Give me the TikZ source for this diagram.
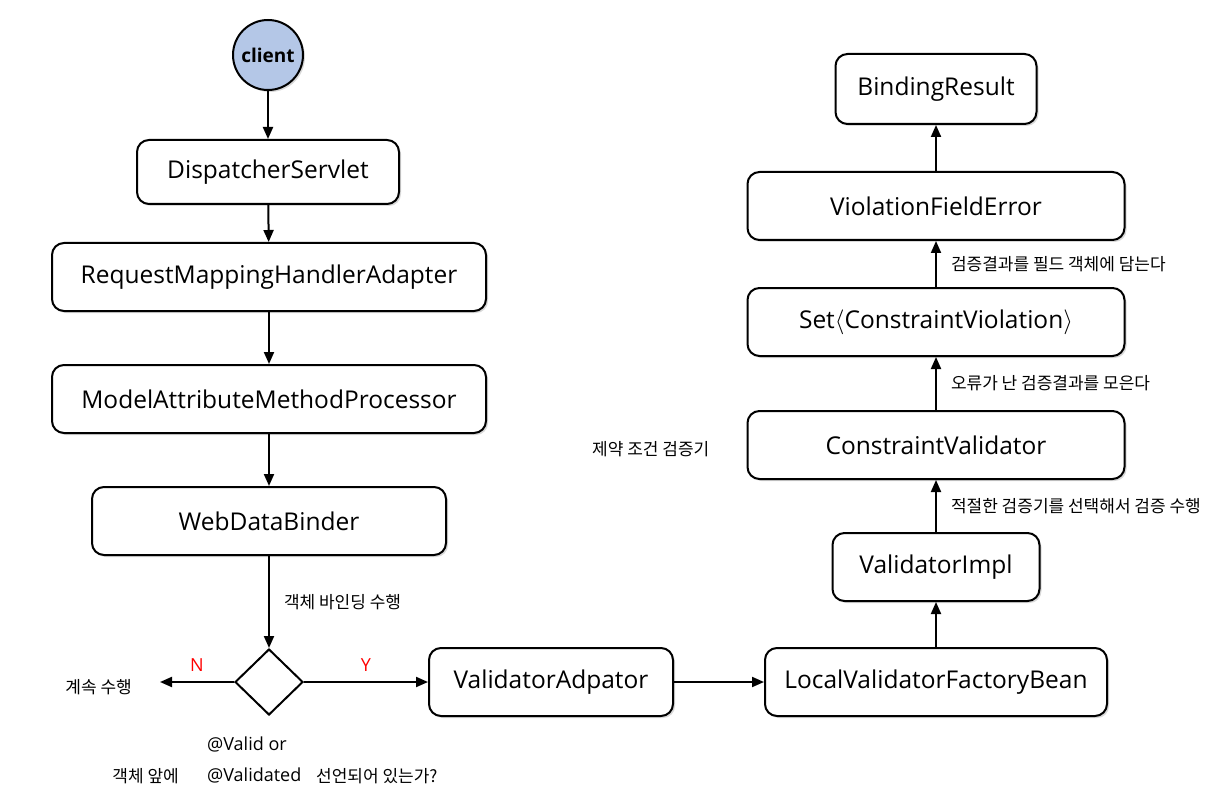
\documentclass[tikz,border=0pt]{standalone}
\usepackage{fontspec}
\setmainfont{Open Sans}
\newfontfamily\kr{Noto Sans CJK KR}
\usetikzlibrary{arrows.meta, positioning, shapes.geometric, shadows}

\definecolor{clientblue}{HTML}{B4C7E7}

\begin{document}
\begin{tikzpicture}[x=1pt, y=-1pt,
    box/.style={draw, line width=2pt, rounded corners=12pt, fill=white, minimum height=68pt,
        font=\fontsize{24.5}{28}\selectfont,
        drop shadow={opacity=0.3, shadow xshift=2pt, shadow yshift=-2pt}},
    lbl/.style={font=\kr\fontsize{17}{20}\selectfont, inner sep=0pt},
    note/.style={font=\fontsize{18}{21}\selectfont, inner sep=0pt},
    yn/.style={text=red, font=\fontsize{18}{20}\selectfont},
    flow/.style={line width=2pt, -{Triangle[length=12pt, width=10pt]}}]
    \useasboundingbox (0, 0) rectangle (1212, 802);

    % left column
    \node[circle, draw, line width=2pt, fill=clientblue, minimum size=70pt, inner sep=0pt,
        font=\bfseries\fontsize{19}{22}\selectfont,
        drop shadow={opacity=0.3, shadow xshift=2pt, shadow yshift=-2pt}] (client) at (268, 55) {client};
    \node[box, minimum width=262pt, minimum height=64pt] (dispatcher) at (268, 172) {DispatcherServlet};
    \node[box, minimum width=434pt] (handlerAdapter) at (269, 277) {RequestMappingHandlerAdapter};
    \node[box, minimum width=434pt] (argResolver) at (269, 399) {ModelAttributeMethodProcessor};
    \node[box, minimum width=354pt] (binder) at (269, 521) {WebDataBinder};
    \node[diamond, draw, line width=2pt, minimum width=68pt, minimum height=66pt, inner sep=0pt] (check) at (269, 682) {};
    \coordinate (goOn) at (160, 682);
    \node[lbl, anchor=east] (goOnText) at (132, 687) {계속 수행};

    % bottom row
    \node[box, minimum width=244pt] (adaptor) at (551, 682) {ValidatorAdpator};
    \node[box, minimum width=342pt] (factoryBean) at (936, 682) {LocalValidatorFactoryBean};

    % right column
    \node[box, minimum width=207pt] (validatorImpl) at (936, 567) {ValidatorImpl};
    \node[box, minimum width=377pt] (constraintValidator) at (936, 445) {ConstraintValidator};
    \node[box, minimum width=377pt] (violations) at (936, 322) {Set\ensuremath{\langle}ConstraintViolation\ensuremath{\rangle}};
    \node[box, minimum width=377pt] (fieldError) at (936, 206) {ViolationFieldError};
    \node[box, minimum width=201pt, minimum height=70pt] (bindingResult) at (936, 89) {BindingResult};
    \node[lbl, anchor=west] (cvNote) at (592, 449) {제약 조건 검증기};

    % question under the diamond
    \node[note, anchor=west] (validOr) at (207, 744) {@Valid or};
    \node[note, anchor=west] (validated) at (207, 775) {@Validated};
    \node[lbl, anchor=east] (infront) at (179, 776) {객체 앞에};
    \node[lbl, anchor=west] (declared) at (316, 776) {선언되어 있는가?};

    \draw[flow] (client) -- (dispatcher);
    \draw[flow] (dispatcher) -- (handlerAdapter);
    \draw[flow] (handlerAdapter) -- (argResolver);
    \draw[flow] (argResolver) -- (binder);
    \draw[flow] (binder) -- node[lbl, midway, right=14pt] {객체 바인딩 수행} (check);
    \draw[flow] (check.west) -- node[yn, midway, above=6pt] {N} (goOn);
    \draw[flow] (check.east) -- node[yn, midway, above=6pt] {Y} (adaptor);
    \draw[flow] (adaptor) -- (factoryBean);
    \draw[flow] (factoryBean) -- (validatorImpl);
    \draw[flow] (validatorImpl) -- node[lbl, midway, right=14pt] {적절한 검증기를 선택해서 검증 수행} (constraintValidator);
    \draw[flow] (constraintValidator) -- node[lbl, midway, right=14pt] {오류가 난 검증결과를 모은다} (violations);
    \draw[flow] (violations) -- node[lbl, midway, right=14pt] {검증결과를 필드 객체에 담는다} (fieldError);
    \draw[flow] (fieldError) -- (bindingResult);
\end{tikzpicture}
\end{document}
